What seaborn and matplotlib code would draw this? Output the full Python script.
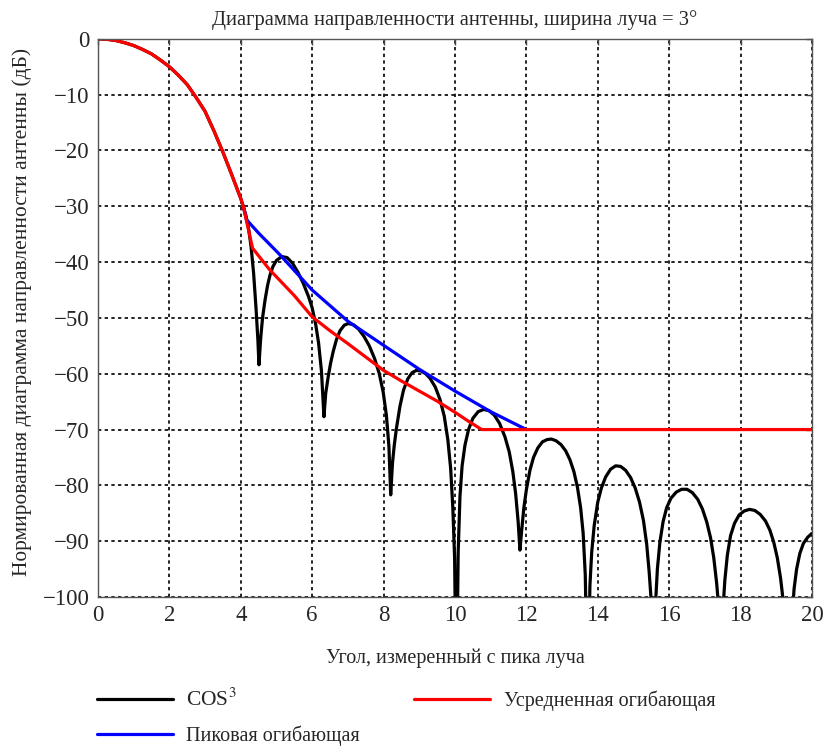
import numpy as np
import pandas as pd
import matplotlib
matplotlib.use("Agg")
import matplotlib.pyplot as plt
import seaborn as sns

# data (angle in degrees, level in dB)
main_angle = [0.0, 0.25, 0.5, 0.75, 1.0, 1.25, 1.5, 1.75, 2.0, 2.25, 2.5, 2.75,
              3.0, 3.25, 3.5, 3.75, 4.0, 4.07]
main_level = [0.0, -0.08, -0.3, -0.7, -1.2, -1.9, -2.7, -3.8, -5.0, -6.5, -8.2, -10.5,
              -13.0, -16.5, -20.3, -24.4, -28.6, -30.0]

cos_angle = main_angle + [
    4.15, 4.22, 4.29, 4.36, 4.43, 4.48, 4.51,
    4.56, 4.61, 4.68, 4.75, 4.82, 4.9, 5.0, 5.15, 5.3, 5.45, 5.6, 5.75, 5.9,
    6.0, 6.1, 6.18, 6.26, 6.33,
    6.38, 6.45, 6.52, 6.59, 6.68, 6.78, 6.9, 7.01, 7.15, 7.3, 7.45, 7.6, 7.75,
    7.88, 7.99, 8.08, 8.15, 8.2,
    8.25, 8.3, 8.36, 8.46, 8.56, 8.68, 8.8, 8.92, 9.05, 9.18, 9.3, 9.45, 9.58,
    9.7, 9.8, 9.88, 9.94, 9.99, 10.04,
    10.09, 10.14, 10.2, 10.28, 10.38, 10.5, 10.65, 10.8, 10.95, 11.1, 11.25,
    11.4, 11.52, 11.62, 11.7, 11.77, 11.82,
    11.87, 11.93, 12.0, 12.1, 12.2, 12.32, 12.45, 12.58, 12.7, 12.83, 12.97,
    13.1, 13.22, 13.33, 13.43, 13.52, 13.59, 13.65, 13.72,
    13.78, 13.83, 13.9, 14.0, 14.1, 14.22, 14.36, 14.5, 14.64, 14.78, 14.92,
    15.05, 15.17, 15.28, 15.37, 15.44, 15.5, 15.56,
    15.62, 15.67, 15.74, 15.83, 15.93, 16.05, 16.2, 16.35, 16.5, 16.65, 16.8,
    16.93, 17.05, 17.16, 17.25, 17.33, 17.39, 17.45,
    17.51, 17.56, 17.63, 17.72, 17.83, 17.96, 18.1, 18.25, 18.4, 18.55, 18.7,
    18.82, 18.93, 19.03, 19.12, 19.2, 19.33,
    19.45, 19.5, 19.57, 19.66, 19.76, 19.88, 20.0,
]
cos_level = main_level + [
    -31.8, -34.0, -37.3, -42.0, -48.5, -54.0, -58.4,
    -53.5, -50.0, -46.8, -44.2, -42.3, -40.8, -39.7, -39.0, -39.2, -40.2, -41.8, -43.8, -46.2,
    -48.2, -51.2, -54.5, -59.5, -67.7,
    -63.5, -60.5, -58.0, -56.0, -53.9, -52.3, -51.3, -51.0, -51.2, -52.0, -53.3, -55.0, -57.3,
    -60.0, -63.3, -67.5, -73.0, -81.7,
    -76.0, -72.8, -69.8, -65.8, -62.9, -60.9, -59.8, -59.4, -59.5, -60.0, -60.8, -62.4, -64.6,
    -67.6, -71.8, -77.0, -84.0, -93.0, -120.0,
    -92.0, -82.0, -76.5, -72.8, -70.0, -68.0, -66.8, -66.4, -66.6, -67.4, -68.9,
    -71.3, -74.0, -77.5, -81.5, -86.5, -91.6,
    -88.0, -84.0, -80.8, -77.3, -75.0, -73.3, -72.2, -71.8, -71.7, -72.0, -72.7,
    -73.8, -75.4, -77.5, -80.3, -84.0, -88.5, -96.0, -120.0,
    -98.0, -92.0, -87.2, -83.0, -80.5, -78.5, -77.1, -76.5, -76.6, -77.3, -78.6,
    -80.5, -83.0, -86.3, -90.5, -95.5, -101.0, -120.0,
    -101.0, -95.0, -90.2, -86.5, -84.0, -82.3, -81.2, -80.7, -80.7, -81.3, -82.5,
    -84.2, -86.5, -89.4, -93.0, -97.5, -102.0, -120.0,
    -102.0, -97.0, -92.5, -89.0, -86.8, -85.3, -84.6, -84.3, -84.5, -85.2, -86.4,
    -88.0, -90.2, -93.0, -96.6, -101.0, -120.0,
    -103.0, -98.5, -95.0, -92.2, -90.4, -89.3, -88.6,
]

avg_angle = main_angle + [4.33, 4.8, 5.5, 6.0, 6.5, 7.0, 7.5, 8.0, 8.5, 9.0,
                          9.5, 10.0, 10.4, 10.75, 20.0]
avg_level = main_level + [-37.5, -41.3, -46.0, -49.8, -52.3, -54.6, -57.0, -59.4, -61.3, -63.1,
                          -64.9, -66.9, -68.6, -70.0, -70.0]

peak_angle = [4.07, 4.16, 4.5, 5.1, 6.0, 7.0, 8.0, 9.0, 10.0, 11.0, 12.0]
peak_level = [-30.0, -32.4, -34.8, -38.7, -45.0, -50.6, -54.9, -59.2, -63.1, -66.8, -70.0]

labels = ["COS$^3$", "Пиковая огибающая", "Усредненная огибающая"]


def main():
    sns.set_style("white")
    plt.rcParams["font.family"] = ["Liberation Serif", "DejaVu Serif"]
    plt.rcParams["mathtext.fontset"] = "stix"

    fig = plt.figure(figsize=(8.26, 7.47), dpi=100)
    ax = fig.add_axes([0.1186, 0.2008, 0.8644, 0.7472])

    df_cos = pd.DataFrame({"angle": cos_angle, "level": cos_level})
    df_avg = pd.DataFrame({"angle": avg_angle, "level": avg_level})
    df_peak = pd.DataFrame({"angle": peak_angle, "level": peak_level})

    sns.lineplot(data=df_cos, x="angle", y="level", ax=ax, color="black",
                 linewidth=2.3, estimator=None, sort=False, label=labels[0])
    sns.lineplot(data=df_peak, x="angle", y="level", ax=ax, color="#0000ff",
                 linewidth=2.3, estimator=None, sort=False, label=labels[1])
    sns.lineplot(data=df_avg, x="angle", y="level", ax=ax, color="#ff0000",
                 linewidth=2.3, estimator=None, sort=False, label=labels[2])

    ax.set_xlim(0, 20)
    ax.set_ylim(-100, 0)
    ax.set_xticks(np.arange(0, 21, 2))
    ax.set_yticks(np.arange(-100, 1, 10))
    ax.tick_params(direction="in", top=True, right=True, labelsize=16.5,
                   length=4, width=1, color="#444444", pad=6)
    ax.grid(True, color="black", linestyle=(0, (2, 2)), linewidth=1.2)
    for s in ax.spines.values():
        s.set_color("#555555")
        s.set_linewidth(1.0)

    ax.set_title("Диаграмма направленности антенны, ширина луча = 3°",
                 fontsize=14.8, pad=10)
    ax.set_xlabel("Угол, измеренный с пика луча", fontsize=14.5)
    ax.xaxis.set_label_coords(0.5, -0.092)
    ax.set_ylabel("Нормированная диаграмма направленности антенны (дБ)",
                  fontsize=15.4)
    ax.yaxis.set_label_coords(-0.092, 0.51)

    handles, lbls = ax.get_legend_handles_labels()
    ax.get_legend().remove()
    leg = fig.legend(handles, lbls, loc="upper left", ncol=2,
                     bbox_to_anchor=(97 / 826, 1 - 689 / 747),
                     bbox_transform=fig.transFigure, frameon=False,
                     fontsize=14.5, handlelength=3.78, columnspacing=2.7,
                     labelspacing=0.72, handletextpad=0.65,
                     borderpad=0, borderaxespad=0)
    leg.get_texts()[0].set_fontsize(15.5)

    fig.savefig("out.png", dpi=100)


if __name__ == "__main__":
    main()
